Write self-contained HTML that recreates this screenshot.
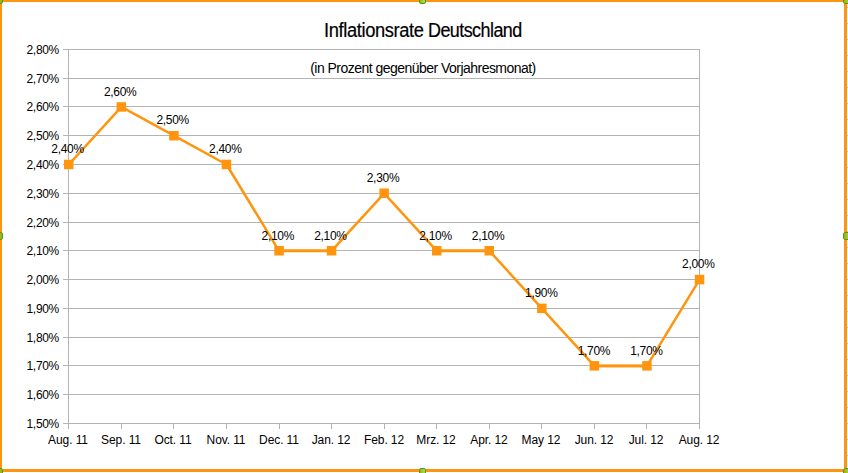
<!DOCTYPE html>
<html><head><meta charset="utf-8"><title>Inflationsrate Deutschland</title>
<style>
html,body{margin:0;padding:0;background:#fff;}
body{width:848px;height:473px;position:relative;overflow:hidden;font-family:"Liberation Sans",sans-serif;color:#000;}
.g{position:absolute;background:#b3b3b3;}
.t{position:absolute;font-size:12px;line-height:14px;white-space:nowrap;letter-spacing:-0.3px;}
.yl{text-align:right;width:60px;left:-1px;}
.xl{text-align:center;width:60px;letter-spacing:-0.1px;}
.dl{text-align:center;width:60px;}
.o{position:absolute;background:#ff950e;}
.h{position:absolute;background:linear-gradient(90deg,#a6b418 15%,#9ade5c 75%);border:1px solid #4f9a0d;border-radius:2px;box-sizing:border-box;}
.hl{background:#a2b41a;}
#title{position:absolute;left:0;top:18.5px;font-size:19.5px;line-height:22px;white-space:nowrap;}
#title span{position:absolute;top:0;transform-origin:0 0;-webkit-text-stroke:0.2px #000;}
#w1{left:323.6px;letter-spacing:-0.4px;transform:scaleX(0.939);}
#w2{left:428.2px;letter-spacing:-0.6px;transform:scaleX(0.92);}
#sub{position:absolute;left:0;width:846px;text-align:center;top:60px;font-size:14px;line-height:16px;white-space:nowrap;letter-spacing:-0.53px;}
svg{position:absolute;left:0;top:0;}
</style></head><body>

<div class="g" style="left:846px;top:7px;width:2px;height:1px;background:#c0c0c0"></div>
<div class="g" style="left:846px;top:23px;width:2px;height:1px;background:#c0c0c0"></div>
<div class="g" style="left:846px;top:39px;width:2px;height:1px;background:#c0c0c0"></div>
<div class="g" style="left:846px;top:55px;width:2px;height:1px;background:#c0c0c0"></div>
<div class="g" style="left:846px;top:71px;width:2px;height:1px;background:#c0c0c0"></div>
<div class="g" style="left:846px;top:87px;width:2px;height:1px;background:#c0c0c0"></div>
<div class="g" style="left:846px;top:103px;width:2px;height:1px;background:#c0c0c0"></div>
<div class="g" style="left:846px;top:119px;width:2px;height:1px;background:#c0c0c0"></div>
<div class="g" style="left:846px;top:135px;width:2px;height:1px;background:#c0c0c0"></div>
<div class="g" style="left:846px;top:151px;width:2px;height:1px;background:#c0c0c0"></div>
<div class="g" style="left:846px;top:167px;width:2px;height:1px;background:#c0c0c0"></div>
<div class="g" style="left:846px;top:183px;width:2px;height:1px;background:#c0c0c0"></div>
<div class="g" style="left:846px;top:199px;width:2px;height:1px;background:#c0c0c0"></div>
<div class="g" style="left:846px;top:215px;width:2px;height:1px;background:#c0c0c0"></div>
<div class="g" style="left:846px;top:231px;width:2px;height:1px;background:#c0c0c0"></div>
<div class="g" style="left:846px;top:247px;width:2px;height:1px;background:#c0c0c0"></div>
<div class="g" style="left:846px;top:263px;width:2px;height:1px;background:#c0c0c0"></div>
<div class="g" style="left:846px;top:279px;width:2px;height:1px;background:#c0c0c0"></div>
<div class="g" style="left:846px;top:295px;width:2px;height:1px;background:#c0c0c0"></div>
<div class="g" style="left:846px;top:311px;width:2px;height:1px;background:#c0c0c0"></div>
<div class="g" style="left:846px;top:327px;width:2px;height:1px;background:#c0c0c0"></div>
<div class="g" style="left:846px;top:343px;width:2px;height:1px;background:#c0c0c0"></div>
<div class="g" style="left:846px;top:359px;width:2px;height:1px;background:#c0c0c0"></div>
<div class="g" style="left:846px;top:375px;width:2px;height:1px;background:#c0c0c0"></div>
<div class="g" style="left:846px;top:391px;width:2px;height:1px;background:#c0c0c0"></div>
<div class="g" style="left:846px;top:407px;width:2px;height:1px;background:#c0c0c0"></div>
<div class="g" style="left:846px;top:423px;width:2px;height:1px;background:#c0c0c0"></div>
<div class="g" style="left:846px;top:439px;width:2px;height:1px;background:#c0c0c0"></div>
<div class="g" style="left:846px;top:455px;width:2px;height:1px;background:#c0c0c0"></div>
<div class="g" style="left:846px;top:471px;width:2px;height:1px;background:#c0c0c0"></div>
<div class="g" style="left:63px;top:49px;width:637px;height:1px"></div>
<div class="t yl" style="top:43px">2,80%</div>
<div class="g" style="left:63px;top:78px;width:637px;height:1px"></div>
<div class="t yl" style="top:72px">2,70%</div>
<div class="g" style="left:63px;top:106px;width:637px;height:1px"></div>
<div class="t yl" style="top:100px">2,60%</div>
<div class="g" style="left:63px;top:135px;width:637px;height:1px"></div>
<div class="t yl" style="top:129px">2,50%</div>
<div class="g" style="left:63px;top:164px;width:637px;height:1px"></div>
<div class="t yl" style="top:158px">2,40%</div>
<div class="g" style="left:63px;top:193px;width:637px;height:1px"></div>
<div class="t yl" style="top:187px">2,30%</div>
<div class="g" style="left:63px;top:222px;width:637px;height:1px"></div>
<div class="t yl" style="top:216px">2,20%</div>
<div class="g" style="left:63px;top:250px;width:637px;height:1px"></div>
<div class="t yl" style="top:244px">2,10%</div>
<div class="g" style="left:63px;top:279px;width:637px;height:1px"></div>
<div class="t yl" style="top:273px">2,00%</div>
<div class="g" style="left:63px;top:308px;width:637px;height:1px"></div>
<div class="t yl" style="top:302px">1,90%</div>
<div class="g" style="left:63px;top:337px;width:637px;height:1px"></div>
<div class="t yl" style="top:331px">1,80%</div>
<div class="g" style="left:63px;top:365px;width:637px;height:1px"></div>
<div class="t yl" style="top:359px">1,70%</div>
<div class="g" style="left:63px;top:394px;width:637px;height:1px"></div>
<div class="t yl" style="top:388px">1,60%</div>
<div class="g" style="left:63px;top:423px;width:637px;height:1px"></div>
<div class="t yl" style="top:417px">1,50%</div>
<div class="g" style="left:68px;top:49px;width:1px;height:380px"></div>
<div class="g" style="left:699px;top:49px;width:1px;height:375px"></div>
<div class="g" style="left:68px;top:423px;width:1px;height:6px"></div>
<div class="t xl" style="left:38px;top:433px">Aug. 11</div>
<div class="g" style="left:121px;top:423px;width:1px;height:6px"></div>
<div class="t xl" style="left:91px;top:433px">Sep. 11</div>
<div class="g" style="left:173px;top:423px;width:1px;height:6px"></div>
<div class="t xl" style="left:143px;top:433px">Oct. 11</div>
<div class="g" style="left:226px;top:423px;width:1px;height:6px"></div>
<div class="t xl" style="left:196px;top:433px">Nov. 11</div>
<div class="g" style="left:279px;top:423px;width:1px;height:6px"></div>
<div class="t xl" style="left:249px;top:433px">Dec. 11</div>
<div class="g" style="left:331px;top:423px;width:1px;height:6px"></div>
<div class="t xl" style="left:301px;top:433px">Jan. 12</div>
<div class="g" style="left:384px;top:423px;width:1px;height:6px"></div>
<div class="t xl" style="left:354px;top:433px">Feb. 12</div>
<div class="g" style="left:436px;top:423px;width:1px;height:6px"></div>
<div class="t xl" style="left:406px;top:433px">Mrz. 12</div>
<div class="g" style="left:489px;top:423px;width:1px;height:6px"></div>
<div class="t xl" style="left:459px;top:433px">Apr. 12</div>
<div class="g" style="left:541px;top:423px;width:1px;height:6px"></div>
<div class="t xl" style="left:511px;top:433px">May 12</div>
<div class="g" style="left:594px;top:423px;width:1px;height:6px"></div>
<div class="t xl" style="left:564px;top:433px">Jun. 12</div>
<div class="g" style="left:646px;top:423px;width:1px;height:6px"></div>
<div class="t xl" style="left:616px;top:433px">Jul. 12</div>
<div class="g" style="left:699px;top:423px;width:1px;height:6px"></div>
<div class="t xl" style="left:669px;top:433px">Aug. 12</div>
<svg width="848" height="473"><polyline points="68.8,164.5 121.4,106.9 173.9,135.7 226.5,164.5 279.0,250.8 331.6,250.8 384.2,193.3 436.7,250.8 489.3,250.8 541.8,308.3 594.4,365.9 646.9,365.9 699.5,279.6" fill="none" stroke="#ff950e" stroke-width="2.5" stroke-linejoin="round"/>
<line x1="279.0" y1="250.8" x2="331.6" y2="250.8" stroke="#ff950e" stroke-width="2.8"/>
<line x1="436.7" y1="250.8" x2="489.3" y2="250.8" stroke="#ff950e" stroke-width="2.8"/>
<line x1="594.4" y1="365.9" x2="646.9" y2="365.9" stroke="#ff950e" stroke-width="2.8"/>
<rect x="64.0" y="159.7" width="9.5" height="9.5" fill="#ff950e"/>
<rect x="116.6" y="102.2" width="9.5" height="9.5" fill="#ff950e"/>
<rect x="169.2" y="131.0" width="9.5" height="9.5" fill="#ff950e"/>
<rect x="221.7" y="159.7" width="9.5" height="9.5" fill="#ff950e"/>
<rect x="274.3" y="246.0" width="9.5" height="9.5" fill="#ff950e"/>
<rect x="326.8" y="246.0" width="9.5" height="9.5" fill="#ff950e"/>
<rect x="379.4" y="188.5" width="9.5" height="9.5" fill="#ff950e"/>
<rect x="432.0" y="246.0" width="9.5" height="9.5" fill="#ff950e"/>
<rect x="484.5" y="246.0" width="9.5" height="9.5" fill="#ff950e"/>
<rect x="537.1" y="303.6" width="9.5" height="9.5" fill="#ff950e"/>
<rect x="589.6" y="361.1" width="9.5" height="9.5" fill="#ff950e"/>
<rect x="642.2" y="361.1" width="9.5" height="9.5" fill="#ff950e"/>
<rect x="694.8" y="274.8" width="9.5" height="9.5" fill="#ff950e"/>
</svg>
<div class="t dl" style="left:37.6px;top:142px">2,40%</div>
<div class="t dl" style="left:90.2px;top:85px">2,60%</div>
<div class="t dl" style="left:142.7px;top:113px">2,50%</div>
<div class="t dl" style="left:195.3px;top:142px">2,40%</div>
<div class="t dl" style="left:247.8px;top:229px">2,10%</div>
<div class="t dl" style="left:300.4px;top:229px">2,10%</div>
<div class="t dl" style="left:353.0px;top:171px">2,30%</div>
<div class="t dl" style="left:405.5px;top:229px">2,10%</div>
<div class="t dl" style="left:458.1px;top:229px">2,10%</div>
<div class="t dl" style="left:511.3px;top:286px">1,90%</div>
<div class="t dl" style="left:563.9px;top:344px">1,70%</div>
<div class="t dl" style="left:616.4px;top:344px">1,70%</div>
<div class="t dl" style="left:668.3px;top:257px">2,00%</div>
<div id="title"><span id="w1">Inflationsrate</span><span id="w2">Deutschland</span></div>
<div id="sub">(in Prozent gegenüber Vorjahresmonat)</div>
<div class="o" style="left:0;top:0;width:843px;height:1.8px"></div>
<div class="o" style="left:0;top:469px;width:843px;height:2.6px"></div>
<div class="o" style="left:0;top:0;width:2.2px;height:471px"></div>
<div class="o" style="left:844px;top:0;width:2.9px;height:471px"></div>
<div style="position:absolute;left:-4.3px;top:-4.3px;width:7.6px;height:8.6px;background:#fff"></div>
<div class="h hl" style="left:-4px;top:-4px;width:7px;height:8px"></div>
<div style="position:absolute;left:418.7px;top:-4.3px;width:7.6px;height:8.6px;background:#fff"></div>
<div class="h " style="left:419px;top:-4px;width:7px;height:8px"></div>
<div style="position:absolute;left:842.7px;top:-4.3px;width:9.6px;height:8.6px;background:#fff"></div>
<div class="h " style="left:843px;top:-4px;width:9px;height:8px"></div>
<div style="position:absolute;left:-4.3px;top:231.7px;width:7.6px;height:8.6px;background:#fff"></div>
<div class="h hl" style="left:-4px;top:232px;width:7px;height:8px"></div>
<div style="position:absolute;left:842.7px;top:231.7px;width:9.6px;height:8.6px;background:#fff"></div>
<div class="h " style="left:843px;top:232px;width:9px;height:8px"></div>
<div style="position:absolute;left:-4.3px;top:467.7px;width:7.6px;height:8.6px;background:#fff"></div>
<div class="h hl" style="left:-4px;top:468px;width:7px;height:8px"></div>
<div style="position:absolute;left:418.7px;top:467.7px;width:7.6px;height:8.6px;background:#fff"></div>
<div class="h " style="left:419px;top:468px;width:7px;height:8px"></div>
<div style="position:absolute;left:842.7px;top:467.7px;width:9.6px;height:8.6px;background:#fff"></div>
<div class="h " style="left:843px;top:468px;width:9px;height:8px"></div>
</body></html>
